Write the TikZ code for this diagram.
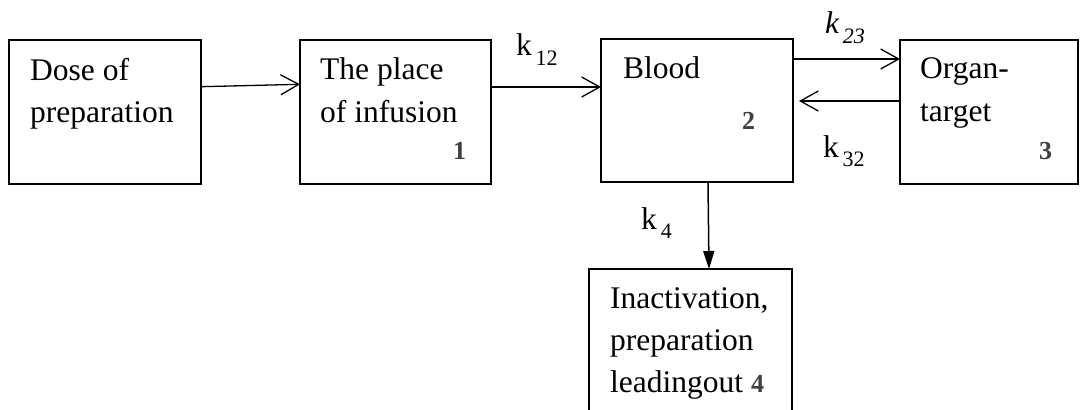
\documentclass[tikz,border=0pt]{standalone}
\usepackage{fontspec}
\setmainfont{Liberation Serif}
\usetikzlibrary{arrows.meta}
\definecolor{numgray}{HTML}{404040}
\begin{document}
\begin{tikzpicture}[x=1pt,y=-1pt,
  box/.style={draw, line width=1.3pt, inner sep=0pt, outer sep=0pt},
  txt/.style={anchor=base west, inner sep=0pt, font=\fontsize{31.5}{43}\selectfont},
  num/.style={anchor=base west, inner sep=0pt, text=numgray, font=\fontsize{26}{26}\selectfont\bfseries},
  arr/.style={line width=1.3pt, -{Straight Barb[length=18pt,width=20pt,line width=1.3pt]}},
  darr/.style={line width=1.5pt, -{Triangle[length=18pt,width=11pt]}}]
\useasboundingbox (0,0) rectangle (1080,410);
\clip (0,0) rectangle (1080,410);
% boxes
\node[box, minimum width=192pt, minimum height=144pt] (d) at (105,112) {};
\node[box, minimum width=191pt, minimum height=144pt] (p) at (395.5,112) {};
\node[box, minimum width=192pt, minimum height=143pt] (b) at (697,110.5) {};
\node[box, minimum width=178pt, minimum height=144pt] (o) at (989,112) {};
\node[box, minimum width=203pt, minimum height=161pt] (i) at (690.5,349.5) {};
% texts
\node[txt] (d1) at (30,80) {Dose of};
\node[txt] (d2) at (30,122) {preparation};
\node[txt] (p1) at (320,79) {The place};
\node[txt] (p2) at (320,122) {of infusion};
\node[txt] (b1) at (623,78) {Blood};
\node[txt] (o1) at (920,78) {Organ-};
\node[txt] (o2) at (920,121) {target};
\node[txt] (i1) at (610,308) {Inactivation,};
\node[txt] (i2) at (610,350) {preparation};
\node[txt] (i3) at (610,392) {leadingout {\color{numgray}\bfseries\fontsize{26}{26}\selectfont 4}};
% numbers
\node[num] (n1) at (453,159) {1};
\node[num] (n2) at (742,129) {2};
\node[num] (n3) at (1039,159) {3};
% rate labels
\node[txt] (k12) at (516,55) {k\raisebox{-10pt}{\fontsize{22}{22}\selectfont\,12}};
\node[txt] (k23) at (825,33) {\itshape k\raisebox{-10pt}{\fontsize{22}{22}\selectfont\,23}};
\node[txt] (k32) at (823,157) {k\raisebox{-9pt}{\fontsize{22}{22}\selectfont\,32}};
\node[txt] (k4) at (641,229) {k\raisebox{-9pt}{\fontsize{22}{22}\selectfont\hspace{4pt}4}};
% connectors
\draw[arr] ([yshift=25.3pt]d.east) -- ([yshift=27.7pt]p.west);
\draw[arr] ([yshift=25pt]p.east) -- ([yshift=23.5pt]b.west);
\draw[arr] ([yshift=51.5pt]b.east) -- ([yshift=53pt]o.west);
\draw[arr] ([yshift=11pt]o.west) -- ([xshift=6pt,yshift=9.5pt]b.east);
\draw[darr] ([xshift=11pt]b.south) -- ([xshift=18.5pt]i.north);
\end{tikzpicture}
\end{document}
